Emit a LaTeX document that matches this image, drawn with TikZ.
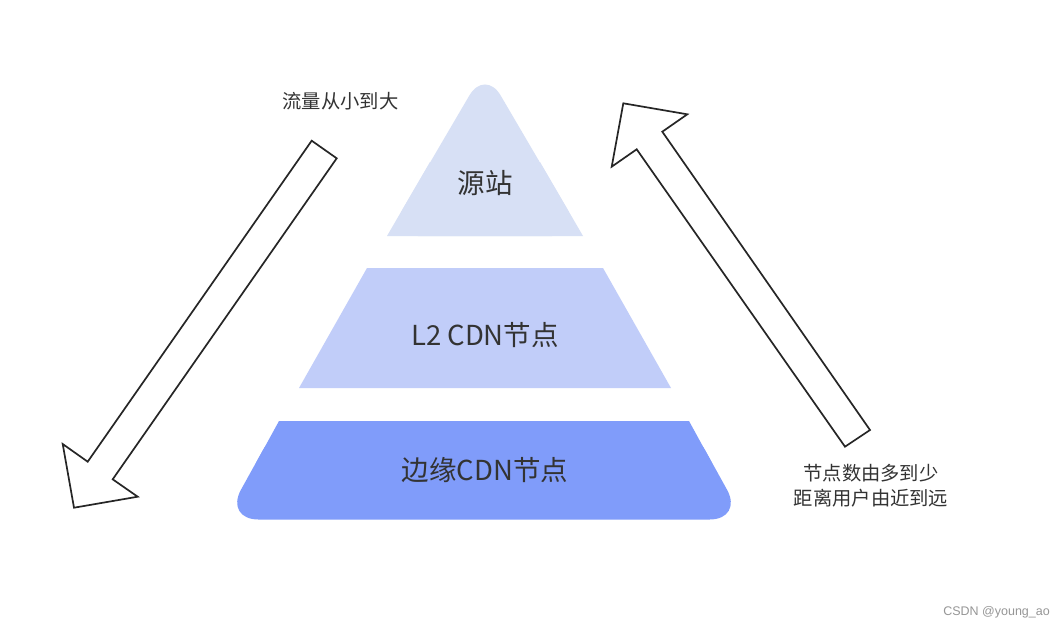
\documentclass[tikz,border=0pt]{standalone}
\usepackage{fontspec}
\setmainfont{Noto Sans CJK SC}
\newfontfamily\wmfont{Liberation Sans}
\definecolor{layerA}{RGB}{215,224,245}
\definecolor{layerB}{RGB}{193,205,249}
\definecolor{layerC}{RGB}{128,156,250}
\definecolor{txt}{RGB}{51,51,51}
\definecolor{wm}{RGB}{150,150,150}
\tikzset{
  bigtext/.style={text=txt, font=\fontsize{27.5}{32}\selectfont, inner sep=0pt},
  smalltext/.style={text=txt, font=\fontsize{19.3}{25}\selectfont, inner sep=0pt, align=center},
  fatarrow/.style={draw=black!85, line width=1.7pt, fill=white, line join=miter},
}
\begin{document}
\begin{tikzpicture}[x=1pt,y=-1pt]
\useasboundingbox[fill=white] (0,0) rectangle (1064,630);
% top layer (rounded apex)
\fill[layerA, rounded corners=31pt] (387,236) -- (485,68.8) -- (583,236) -- cycle;
\fill[layerA] (387,236) -- (583,236) -- (540,162) -- (430,162) -- cycle;
% middle layer
\fill[layerB] (367,268) -- (603,268) -- (671,388) -- (299,388) -- cycle;
% bottom layer (rounded bottom corners)
\fill[layerC, rounded corners=34pt] (279,421) -- (689,421) -- (743.5,519.5) -- (224.5,519.5) -- cycle;
\fill[layerC] (279,421) -- (689,421) -- (712,463) -- (256,463) -- cycle;
% labels
\node[bigtext] (top) at (485,183) {源站};
\node[bigtext] (mid) at (485,335) {L2 CDN节点};
\node[bigtext] (bot) at (485,470) {边缘CDN节点};
% left arrow (down)
\draw[fatarrow] (311.7,140.7) -- (336.7,158.3) -- (112.7,479.3) -- (137.7,496.7) -- (74,507.7)
  -- (62.7,444) -- (87.7,461.7) -- cycle;
% right arrow (up)
\draw[fatarrow] (623.3,103.3) -- (687.3,114.3) -- (662.3,131.7) -- (870,430) -- (845,446.7)
  -- (636.7,149.3) -- (611.7,166.7) -- cycle;
\node[smalltext] (flow) at (340.5,101) {流量从小到大};
\node[smalltext] (nodes) at (871,486) {节点数由多到少\\距离用户由近到远};
\node[text=wm, font=\wmfont\fontsize{12.5}{14}\selectfont, anchor=east, inner sep=0pt] (mark) at (1050,612) {CSDN @young\_ao};
\end{tikzpicture}
\end{document}
